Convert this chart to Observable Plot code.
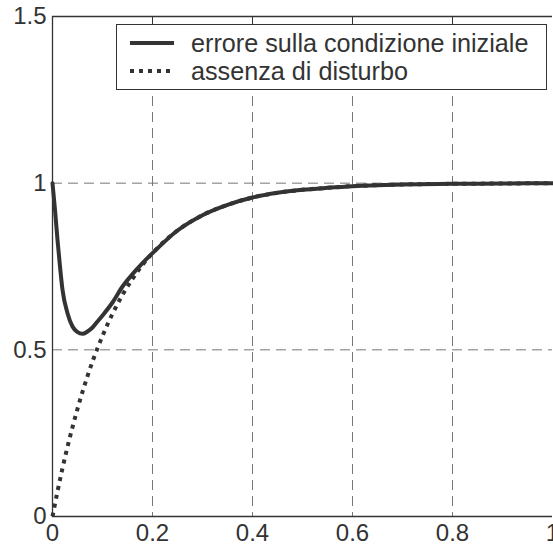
<!DOCTYPE html>
<html>
<head>
<meta charset="utf-8">
<script src="https://cdn.jsdelivr.net/npm/d3@7"></script>
<script src="https://cdn.jsdelivr.net/npm/@observablehq/plot@0.6"></script>
<style>
  html, body { margin: 0; padding: 0; background: #fff; }
  #wrap { position: relative; width: 553px; height: 548px; overflow: hidden; font-family: "Liberation Sans", Arial, sans-serif; }
  #legend { position: absolute; left: 116px; top: 24px; width: 431px; height: 66px; border: 1px solid #333; background: #fff; box-sizing: border-box; }
  .row { position: absolute; left: 0; height: 28px; display: flex; align-items: center; font-size: 25.2px; color: #333; white-space: nowrap; }
  .row svg { margin-left: 13px; margin-right: 17px; }
</style>
</head>
<body>
<div id="wrap"></div>
<script>
// time axis samples
const tSolid = [0, 0.005, 0.01, 0.015, 0.02, 0.03, 0.04, 0.05, 0.06, 0.07, 0.08, 0.09, 0.10, 0.12, 0.14, 0.16, 0.18, 0.20, 0.25, 0.30, 0.35, 0.40, 0.45, 0.50, 0.55, 0.60, 0.65, 0.70, 0.80, 0.90, 1.00];
const ySolid = [1.0, 0.92, 0.83, 0.75, 0.68, 0.61, 0.57, 0.553, 0.548, 0.555, 0.567, 0.585, 0.603, 0.642, 0.69, 0.727, 0.76, 0.79, 0.858, 0.904, 0.935, 0.957, 0.971, 0.980, 0.986, 0.991, 0.994, 0.996, 0.998, 0.999, 1.0];
const tDotted = [0, 0.01, 0.02, 0.03, 0.04, 0.05, 0.06, 0.07, 0.08, 0.09, 0.10, 0.12, 0.14, 0.16, 0.18, 0.20, 0.25, 0.30, 0.35, 0.40, 0.45, 0.50, 0.55, 0.60, 0.65, 0.70, 0.80, 0.90, 1.00];
const yDotted = [0, 0.075, 0.145, 0.209, 0.268, 0.323, 0.374, 0.421, 0.465, 0.505, 0.542, 0.608, 0.665, 0.713, 0.755, 0.79, 0.858, 0.904, 0.935, 0.957, 0.971, 0.980, 0.986, 0.991, 0.994, 0.996, 0.998, 0.999, 1.0];
const xTicks = [0, 0.2, 0.4, 0.6, 0.8, 1];
const yTicks = [0, 0.5, 1, 1.5];
const xGrid = [0.2, 0.4, 0.6, 0.8];
const yGrid = [0.5, 1];
const seriesNames = ["errore sulla condizione iniziale", "assenza di disturbo"];

const solid = tSolid.map((t, i) => ({t, v: ySolid[i]}));
const dotted = tDotted.map((t, i) => ({t, v: yDotted[i]}));
const ink = "#333";
const dotDash = "4,5";

const chart = Plot.plot({
  width: 553,
  height: 548,
  marginLeft: 52,
  marginRight: 1,
  marginTop: 16,
  marginBottom: 32,
  style: {fontFamily: "'Liberation Sans', Arial, sans-serif", fontSize: "24px", color: ink, background: "#fff", overflow: "visible"},
  x: {domain: [0, 1]},
  y: {domain: [0, 1.5]},
  marks: [
    Plot.ruleX(xGrid, {stroke: "#777", strokeWidth: 1, strokeDasharray: "10,6"}),
    Plot.ruleY(yGrid, {stroke: "#777", strokeWidth: 1, strokeDasharray: "10,6"}),
    Plot.ruleX([0], {stroke: ink, strokeWidth: 1.3}),
    Plot.ruleY([0, 1.5], {stroke: ink, strokeWidth: 1.3}),
    Plot.axisX({ticks: xTicks, tickSize: 0, tickPadding: 7, tickFormat: d => String(d), label: null, fontSize: 24, fill: ink}),
    Plot.axisY({ticks: yTicks, tickSize: 0, tickPadding: 6, tickFormat: d => String(d), label: null, fontSize: 24, fill: ink}),
    Plot.axisX({anchor: "top", ticks: xGrid, tickSize: -7, tickFormat: () => "", label: null, stroke: ink}),
    Plot.line(dotted, {x: "t", y: "v", stroke: ink, strokeWidth: 4, strokeDasharray: dotDash, strokeLinecap: "butt", curve: "monotone-x"}),
    Plot.line(solid, {x: "t", y: "v", stroke: ink, strokeWidth: 4, curve: "monotone-x"})
  ]
});

const wrap = document.getElementById("wrap");
wrap.appendChild(chart);

const legend = document.createElement("div");
legend.id = "legend";
const dashes = ["", dotDash];
seriesNames.forEach((name, i) => {
  const row = document.createElement("div");
  row.className = "row";
  row.style.top = (4 + i * 28) + "px";
  row.innerHTML = `<svg width="44" height="8"><line x1="0" y1="4" x2="44" y2="4" stroke="${ink}" stroke-width="4" ${dashes[i] ? `stroke-dasharray="${dashes[i]}"` : ""}/></svg><span>${name}</span>`;
  legend.appendChild(row);
});
wrap.appendChild(legend);
</script>
</body>
</html>
